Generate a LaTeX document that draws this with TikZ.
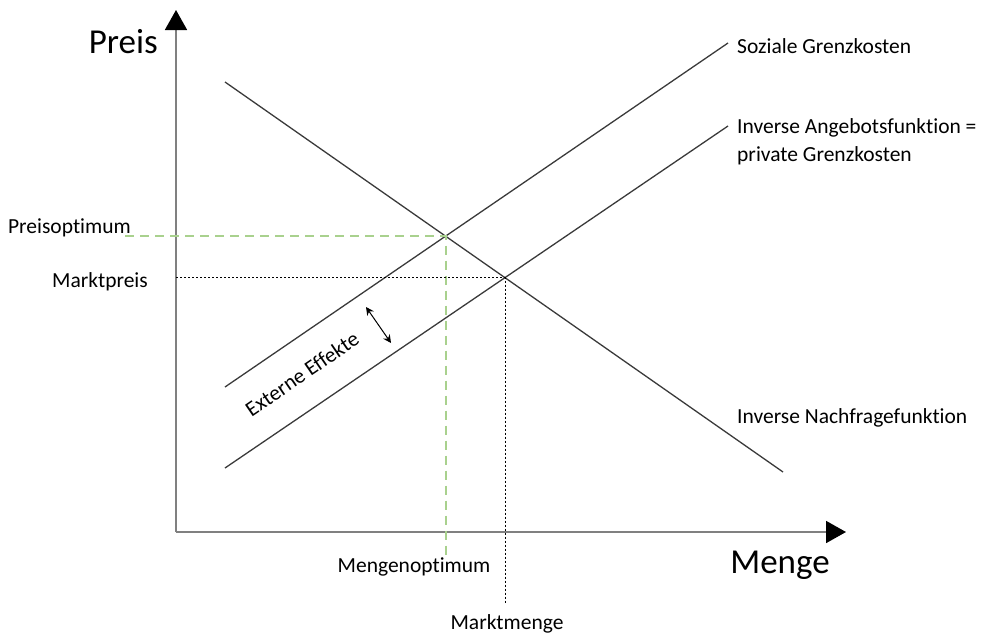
\documentclass[tikz,border=0pt]{standalone}
\usepackage{fontspec}
\setmainfont{Carlito}[Ligatures=NoCommon]
\usetikzlibrary{arrows.meta}
\usetikzlibrary{intersections}
\newcommand*{\ox }{176}
\newcommand*{\oy }{532}
\newcommand*{\lx }{737}
\definecolor{linegray}{HTML}{3A3A3A}
\definecolor{axisgray}{HTML}{808080}
\definecolor{optgreen}{HTML}{A9D18E}
\newcommand\lbl{\fontsize{21.5}{28}\selectfont}
\newcommand\AXIS{\fontsize{35}{42}\selectfont}
\tikzset{
  axis/.style={axisgray, line width=1.8pt, -{Triangle[width=22pt,length=20pt,color=black]}},
  curve/.style={linegray, line width=1.3pt},
  optline/.style={optgreen, line width=2pt, dash pattern=on 9pt off 6pt},
  mktline/.style={black, line width=0.9pt, dash pattern=on 2pt off 2pt},
}

\begin{document}
\begin{tikzpicture}[x=1pt, y=-1pt, font=\lbl, inner sep=0pt]
    \useasboundingbox (0,0) rectangle (995,637);
    % axes
    \coordinate (O) at (\ox,\oy);
    \coordinate (ytop) at (\ox,10);
    \coordinate (xend) at (846,\oy);
    \draw [axis] (O) -- (ytop);
    \draw [axis] (O) -- (xend);
    \node (preis) [anchor=east, font=\AXIS] at (158,42) {Preis};
    \node (menge) [font=\AXIS] at (780,565) {Menge};
    % curves
    \draw [curve, name path=nf ] (225,82)  coordinate (nfA)  -- (783,472) coordinate (nfB);
    \draw [curve, name path=sgk] (225,387) coordinate (sgkA) -- (728,43)  coordinate (sgkB);
    \draw [curve, name path=pgk] (225,468) coordinate (pgkA) -- (728,126) coordinate (pgkB);
    \path [name intersections={of=nf and sgk, by=opt}];
    \path [name intersections={of=nf and pgk, by=mkt}];
    \node (sgklbl) [anchor=west] at (\lx,46) {Soziale Grenzkosten};
    \node (pgklbl) [anchor=west, align=left] at (\lx,142) {Inverse Angebotsfunktion =\\private Grenzkosten};
    \node (nflbl)  [anchor=west] at (\lx,418) {Inverse Nachfragefunktion};
    % optimum
    \coordinate (poptend) at (125,0);
    \coordinate (moptend) at (0,558);
    \draw [optline] (opt -| poptend) -- (opt) -- (opt |- moptend);
    \node (popt) [anchor=east] at (131,228) {Preisoptimum};
    \node (mopt) at (414,567) {Mengenoptimum};
    % market
    \coordinate (mmend) at (0,603);
    \draw [mktline] (mkt -| O) -- (mkt) -- (mkt |- mmend);
    \node (mpreis) [anchor=east] at (148,282) {Marktpreis};
    \node (mmenge) at (507,624) {Marktmenge};
    % externe effekte
    \node (ext) [rotate=34.4] at (302,374) {Externe Effekte};
    \coordinate (extA) at (366,307);
    \coordinate (extB) at (391,343);
    \draw [black, line width=1pt, {Stealth[length=8pt,width=8pt]}-{Stealth[length=8pt,width=8pt]}] (extA) -- (extB);
\end{tikzpicture}
\end{document}
